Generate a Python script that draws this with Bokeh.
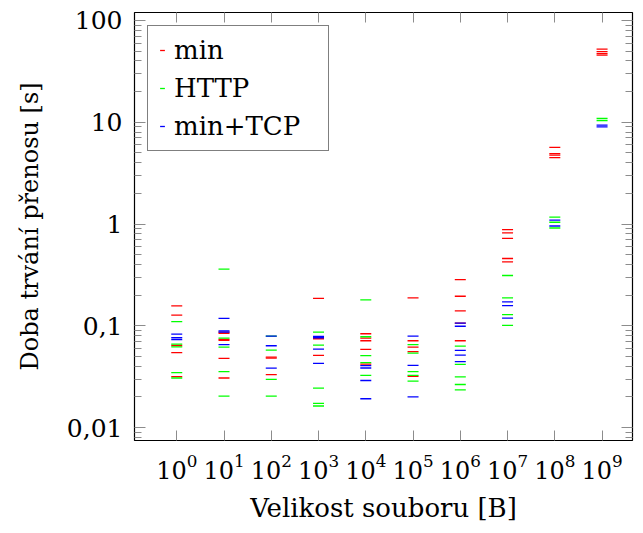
from bokeh.plotting import figure
from bokeh.models import (Range1d, FixedTicker, LogAxis, CustomJSTickFormatter,
                          LogTickFormatter, ColumnDataSource, Legend, LegendItem)
from bokeh.embed import file_html
from bokeh.resources import INLINE

# ---------------- data ----------------
sizes = [1e0, 1e1, 1e2, 1e3, 1e4, 1e5, 1e6, 1e7, 1e8, 1e9]

min_times = [
    [0.157, 0.127, 0.064, 0.0545, 0.0317],
    [0.0866, 0.0841, 0.0735, 0.0718, 0.0479, 0.0307],
    [0.0493, 0.0482, 0.0332],
    [0.186, 0.0746, 0.0513],
    [0.0835, 0.0757, 0.0713, 0.0587, 0.0421],
    [0.188, 0.0713, 0.0618, 0.0557, 0.0319],
    [0.284, 0.195, 0.140, 0.106, 0.0713],
    [0.879, 0.817, 0.724, 0.458, 0.425],
    [5.66, 4.91, 4.75, 4.49],
    [52.2, 49.4, 47.2, 45.6],
]

http_times = [
    [0.110, 0.066, 0.062, 0.0347, 0.0307],
    [0.361, 0.0757, 0.0617, 0.0355, 0.0204],
    [0.0791, 0.0577, 0.0297, 0.0204],
    [0.0866, 0.0646, 0.0244, 0.0173, 0.0163],
    [0.180, 0.078, 0.0509, 0.0435, 0.0325],
    [0.0652, 0.054, 0.0355, 0.0325, 0.0286],
    [0.0632, 0.0418, 0.0315, 0.0265, 0.0235],
    [0.312, 0.188, 0.129, 0.101],
    [1.17, 1.04, 0.914],
    [10.9, 10.4],
]

tcp_times = [
    [0.0828, 0.0763, 0.0730],
    [0.118, 0.0893, 0.0866, 0.0652],
    [0.0791, 0.0637, 0.0383],
    [0.0785, 0.0763, 0.0591, 0.0428],
    [0.0407, 0.0385, 0.029, 0.0192],
    [0.0791, 0.0409, 0.02],
    [0.106, 0.099, 0.0574, 0.0516, 0.0445],
    [0.172, 0.158, 0.119],
    [1.09, 0.956],
    [9.35, 9.01],
]

series_names = ["min", "HTTP", "min+TCP"]
series_data = [min_times, http_times, tcp_times]
series_colors = ["#ff0000", "#00ff00", "#0000ff"]

y_major = [0.01, 0.1, 1, 10, 100]
y_minor = [k * 10.0 ** d for d in range(-3, 2) for k in range(2, 10)]

FONT = "DejaVu Serif"


def make_source(times):
    xs, ys = [], []
    for s, vals in zip(sizes, times):
        for v in vals:
            xs.append(s)
            ys.append(v)
    return ColumnDataSource(dict(x=xs, y=ys))


p = figure(width=635, height=525, x_axis_type="log", y_axis_type="log",
           x_range=Range1d(10 ** -0.894, 10 ** 9.644),
           y_range=Range1d(10 ** -2.127, 10 ** 2.078),
           output_backend="svg", toolbar_location=None,
           min_border_left=134, min_border_right=3,
           min_border_top=12, min_border_bottom=84)

p.xgrid.visible = False
p.ygrid.visible = False
p.outline_line_color = "black"
p.outline_line_width = 1.2
p.background_fill_color = "white"
p.border_fill_color = "white"

x_ticker = FixedTicker(ticks=sizes, minor_ticks=[])
y_ticker = FixedTicker(ticks=y_major, minor_ticks=y_minor)

TICK_COLOR = "#8c8c8c"

xa = p.below[0]
xa.ticker = x_ticker
xa.formatter = LogTickFormatter()
xa.major_tick_in = 10
xa.major_tick_out = 0
xa.minor_tick_in = 0
xa.minor_tick_out = 0
xa.major_tick_line_color = TICK_COLOR
xa.axis_line_color = None
xa.major_label_text_font = FONT
xa.major_label_text_font_size = "24px"
xa.major_label_text_color = "black"
xa.major_label_standoff = 13
xa.axis_label = "Velikost souboru [B]"
xa.axis_label_text_font = FONT
xa.axis_label_text_font_size = "26px"
xa.axis_label_text_font_style = "normal"
xa.axis_label_text_color = "black"
xa.axis_label_standoff = 11

ya = p.left[0]
ya.ticker = y_ticker
ya.formatter = CustomJSTickFormatter(code="""
    if (tick >= 1) { return tick.toFixed(0); }
    return tick.toString().replace('.', ',');
""")
ya.major_tick_in = 11
ya.major_tick_out = 0
ya.minor_tick_in = 7
ya.minor_tick_out = 0
ya.major_tick_line_color = TICK_COLOR
ya.minor_tick_line_color = TICK_COLOR
ya.axis_line_color = None
ya.major_label_text_font = FONT
ya.major_label_text_font_size = "25px"
ya.major_label_text_color = "black"
ya.major_label_standoff = 12
ya.axis_label = "Doba trvání přenosu [s]"
ya.axis_label_text_font = FONT
ya.axis_label_text_font_size = "24px"
ya.axis_label_text_font_style = "normal"
ya.axis_label_text_color = "black"
ya.axis_label_standoff = 20

empty = CustomJSTickFormatter(code="return '';")

ra = LogAxis(ticker=y_ticker, formatter=empty,
             major_tick_in=11, major_tick_out=0,
             minor_tick_in=7, minor_tick_out=0,
             major_tick_line_color=TICK_COLOR, minor_tick_line_color=TICK_COLOR,
             axis_line_color=None, major_label_standoff=0,
             major_label_text_font_size="0px")
p.add_layout(ra, "right")

ta = LogAxis(ticker=x_ticker, formatter=empty,
             major_tick_in=10, major_tick_out=0,
             minor_tick_in=0, minor_tick_out=0,
             major_tick_line_color=TICK_COLOR,
             axis_line_color=None, major_label_standoff=0,
             major_label_text_font_size="0px")
p.add_layout(ta, "above")

items = []
for name, data, color in zip(series_names, series_data, series_colors):
    src = make_source(data)
    r = p.scatter("x", "y", source=src, marker="dash", size=11,
                  line_color=color, line_width=1.3, fill_color=None)
    items.append(LegendItem(label=name, renderers=[r]))

legend = Legend(items=items, location="top_left", margin=13,
                padding=8, spacing=6, glyph_width=12, glyph_height=32,
                label_height=32, label_width=146, label_standoff=6,
                label_text_font=FONT, label_text_font_size="26px",
                label_text_font_style="normal",
                label_text_color="black",
                border_line_color="black", border_line_width=1,
                background_fill_color="white", background_fill_alpha=1.0)
p.add_layout(legend)

open("out.html", "w").write(file_html(p, INLINE))
